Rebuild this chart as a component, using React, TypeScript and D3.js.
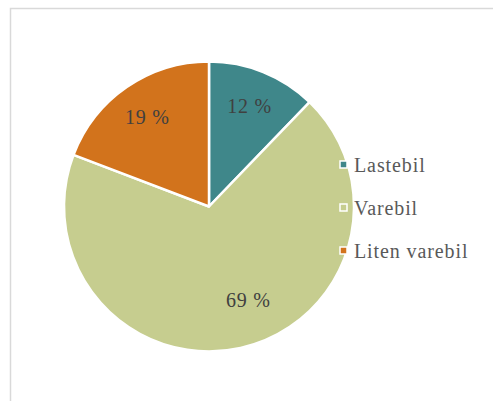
import React from "react";
import * as d3 from "d3";

const categories = ["Lastebil", "Varebil", "Liten varebil"];
const values = [12.2, 68.6, 19.2];
const labels = ["12 %", "69 %", "19 %"];
const colors = ["#3f878a", "#c6cd8f", "#d2731c"];

const W = 493;
const H = 401;
const cx = 209;
const cy = 206.5;
const R = 145;

export default function App() {
  const pie = d3.pie<number>().sort(null).value((d) => d)(values);
  const arc = d3.arc<d3.PieArcDatum<number>>().innerRadius(0).outerRadius(R);
  const labelR = R * 0.75;
  const legendY = d3.scalePoint<string>().domain(categories).range([164.5, 250.5]);
  return (
    <svg width={W} height={H} style={{ position: "absolute", left: 0, top: 0, background: "#fff" }}
      fontFamily="'Liberation Serif', serif">
      <rect x={10.5} y={8.5} width={W + 20} height={H + 20} fill="#fff" stroke="#d9d9d9" strokeWidth={1.5} />
      <g transform={`translate(${cx},${cy})`}>
        {pie.map((p, i) => (
          <path key={i} d={arc(p) || ""} fill={colors[i]} stroke="#fff" strokeWidth={2.5} strokeLinejoin="round" />
        ))}
        {pie.map((p, i) => {
          // best-fit placement: large slices get their label pulled toward the slice's larger free area
          const span = p.endAngle - p.startAngle;
          const mid = (p.startAngle + p.endAngle) / 2 - (span > Math.PI ? 0.18 : 0);
          const r = span > Math.PI ? labelR * 0.93 : labelR;
          const x = Math.sin(mid) * r;
          const y = -Math.cos(mid) * r;
          return (
            <text key={i} x={x} y={y} textAnchor="middle" dominantBaseline="central" fontSize={20}
              letterSpacing={0.8} fill="#404040">
              {labels[i]}
            </text>
          );
        })}
      </g>
      {categories.map((c, i) => {
        const y = legendY(c) as number;
        return (
          <g key={c}>
            <rect x={340} y={y - 3.5} width={7} height={7} fill={colors[i]} stroke="#fff" strokeWidth={1.5} />
            <text x={354} y={y} dominantBaseline="central" fontSize={20} letterSpacing={0.9} fill="#595959">{c}</text>
          </g>
        );
      })}
    </svg>
  );
}
